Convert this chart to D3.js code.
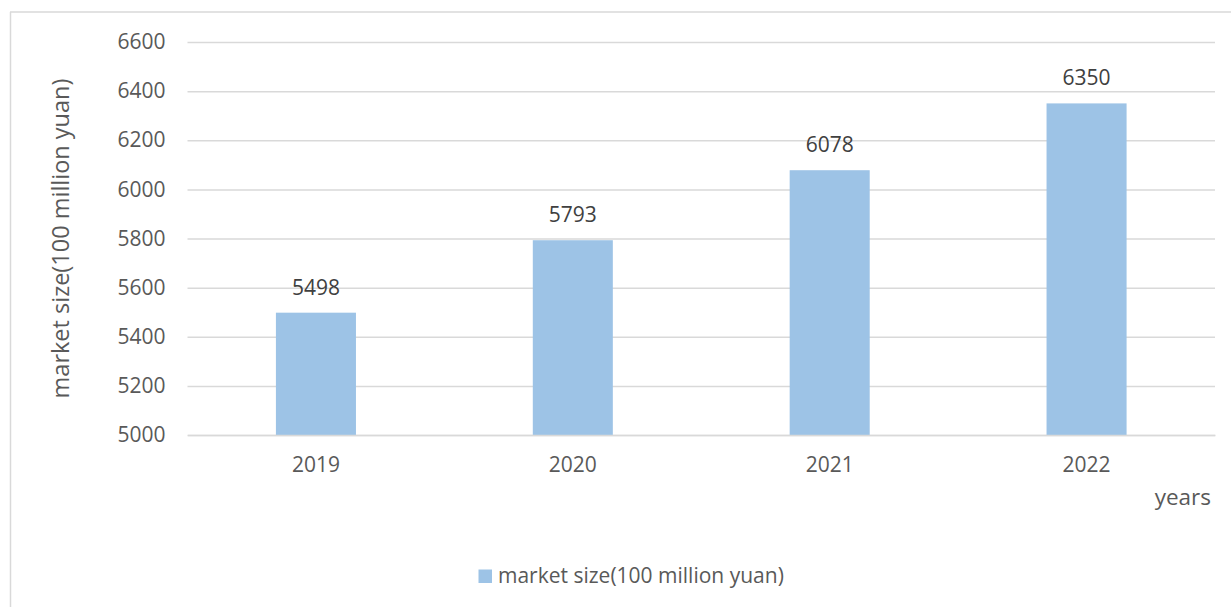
<!DOCTYPE html>
<html><head><meta charset="utf-8">
<script src="https://cdn.jsdelivr.net/npm/d3@7"></script>
<style>html,body{margin:0;padding:0;background:#fff;}svg{display:block;font-family:"Open Sans",sans-serif;}</style>
</head><body>
<svg id="c" width="1231" height="607"></svg>
<script>
const categories = ["2019","2020","2021","2022"];
const values = [5498, 5793, 6078, 6350];
const yTicks = [5000,5200,5400,5600,5800,6000,6200,6400,6600];
const seriesName = "market size(100 million yuan)";
const xTitle = "years";
const yTitle = "market size(100 million yuan)";

const svg = d3.select("#c");
const m = {left:187.5, right:1215, top:42, bottom:435};
const x = d3.scaleBand().domain(categories).range([m.left, m.right]).paddingInner(0.6884).paddingOuter(0.3442);
const y = d3.scaleLinear().domain([5000,6600]).range([m.bottom, m.top]);

// frame
svg.append("line").attr("x1",10.5).attr("x2",10.5).attr("y1",12).attr("y2",607).attr("stroke","#D9D9D9").attr("stroke-width",1.5);
svg.append("line").attr("x1",10).attr("x2",1231).attr("y1",12).attr("y2",12).attr("stroke","#D9D9D9").attr("stroke-width",1.5);

// grid + y axis
const yAxis = d3.axisLeft(y).tickValues(yTicks).tickSize(-(m.right-m.left)).tickPadding(22).tickFormat(d3.format("d"));
const gy = svg.append("g").attr("transform",`translate(${m.left},0)`).call(yAxis);
gy.select(".domain").remove();
gy.selectAll(".tick line").attr("stroke","#D9D9D9").attr("stroke-width",1.5);
gy.selectAll(".tick text").attr("fill","#595959").style("font-size","21px").style("font-family","Open Sans");

// bars
svg.append("g").selectAll("rect").data(values).join("rect")
  .attr("x",(d,i)=>x(categories[i])).attr("width",x.bandwidth())
  .attr("y",d=>y(d)).attr("height",d=>y(5000)-y(d)).attr("fill","#9DC3E6");

// data labels
svg.append("g").selectAll("text").data(values).join("text")
  .attr("x",(d,i)=>x(categories[i])+x.bandwidth()/2).attr("y",d=>y(d)-18)
  .attr("text-anchor","middle").attr("fill","#404040").style("font-size","21px").text(d=>d);

// x axis
const xAxis = d3.axisBottom(x).tickSize(0).tickPadding(22);
const gx = svg.append("g").attr("transform",`translate(0,${m.bottom})`).call(xAxis);
gx.select(".domain").attr("stroke","#D9D9D9").attr("stroke-width",1.5);
gx.selectAll(".tick text").attr("fill","#595959").style("font-size","21px").style("font-family","Open Sans");

// axis titles
svg.append("text").attr("x",1211).attr("y",505).attr("text-anchor","end").attr("fill","#595959").style("font-size","22.5px").text(xTitle);
svg.append("text").attr("transform",`translate(69,${(m.top+m.bottom)/2}) rotate(-90)`).attr("text-anchor","middle").attr("fill","#595959").style("font-size","23.5px").text(yTitle);

// legend
svg.append("rect").attr("x",478.5).attr("y",569.5).attr("width",13.5).attr("height",13.5).attr("fill","#9DC3E6");
svg.append("text").attr("x",498).attr("y",582.5).attr("fill","#595959").style("font-size","21px").text(seriesName);
</script>
</body></html>
